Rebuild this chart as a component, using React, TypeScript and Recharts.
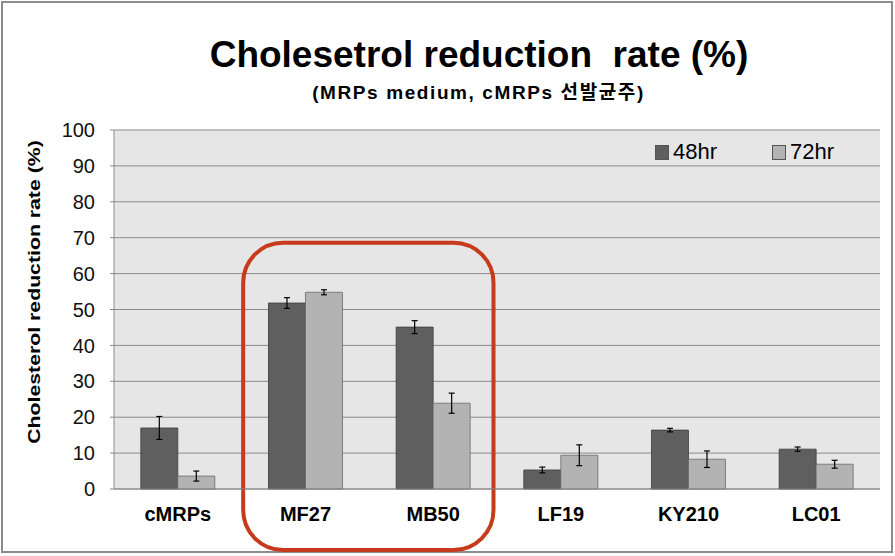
import React from "react";
import { BarChart, Bar, XAxis, YAxis, CartesianGrid, ErrorBar, Legend, ReferenceArea } from "recharts";

const strains = ["cMRPs", "MF27", "MB50", "LF19", "KY210", "LC01"];
const rate48 = [17, 51.8, 45.1, 5.3, 16.4, 11.1];
const rate72 = [3.6, 54.8, 23.9, 9.4, 8.3, 6.9];
const err48 = [3.2, 1.5, 1.8, 0.8, 0.5, 0.6];
const err72 = [1.4, 0.7, 2.8, 2.9, 2.3, 1.1];
const yTicks = [0, 10, 20, 30, 40, 50, 60, 70, 80, 90, 100];

const data = strains.map((s, i) => ({
  strain: s,
  h48: rate48[i],
  h72: rate72[i],
  e48: err48[i],
  e72: err72[i],
}));

const FONT = '"Liberation Sans", Arial, "Noto Sans CJK KR", sans-serif';

const RoundedBox = (props: any) => {
  const { x, y, width, height } = props;
  return (
    <rect
      x={x + 1.5}
      y={y}
      width={width - 5}
      height={height}
      rx={40}
      ry={40}
      fill="none"
      stroke="#c53b1b"
      strokeWidth={4}
    />
  );
};

const LegendBox = (props: any) => {
  const items = props.payload || [];
  return (
    <div style={{ display: "flex", fontFamily: FONT, fontSize: 22, color: "#000" }}>
      {items.map((it: any) => (
        <div key={it.value} style={{ display: "flex", alignItems: "center", width: 117 }}>
          <span
            style={{
              display: "inline-block",
              width: 12,
              height: 13,
              background: it.color,
              border: "1px solid #555",
              marginRight: 4,
            }}
          />
          <span>{it.value}</span>
        </div>
      ))}
    </div>
  );
};

export default function App() {
  return (
    <div style={{ position: "absolute", left: 0, top: 0, width: 895, height: 556, background: "#fff", fontFamily: FONT }}>
      <div style={{ position: "absolute", left: 1, top: 1, width: 888, height: 548, border: "2px solid #8c8c8c" }} />
      <div style={{ position: "absolute", left: 0, top: 34, width: 958, textAlign: "center", fontSize: 37, fontWeight: "bold", whiteSpace: "pre" }}>
        {"Cholesetrol reduction  rate (%)"}
      </div>
      <div style={{ position: "absolute", left: 0, top: 77, width: 957, textAlign: "center", fontSize: 19, fontWeight: "bold", letterSpacing: 1.6, whiteSpace: "nowrap" }}>
        (MRPs medium, cMRPs 선발균주)
      </div>
      <div
        style={{
          position: "absolute",
          left: 35,
          top: 292,
          transform: "translate(-50%, -50%) rotate(-90deg) scaleX(1.25)",
          fontSize: 17,
          fontWeight: "bold",
          whiteSpace: "nowrap",
        }}
      >
        Cholesterol reduction rate (%)
      </div>
      <BarChart
        width={895}
        height={556}
        data={data}
        margin={{ top: 130, right: 15, bottom: 0, left: 0 }}
        barCategoryGap="21%"
        barGap={0}
        style={{ position: "absolute", left: 0, top: 0 }}
      >
        <CartesianGrid vertical={false} stroke="#8a8a8a" fill="#e6e6e6" fillOpacity={1} />
        <XAxis
          dataKey="strain"
          height={67}
          axisLine={{ stroke: "#8a8a8a" }}
          tickLine={false}
          tickMargin={12}
          tick={{ fontSize: 20, fontWeight: "bold", fill: "#000", fontFamily: FONT }}
        />
        <YAxis
          width={114}
          domain={[0, 100]}
          ticks={yTicks}
          interval={0}
          axisLine={{ stroke: "#8a8a8a" }}
          tickLine={{ stroke: "#8a8a8a" }}
          tickSize={4}
          tickMargin={15}
          tick={{ fontSize: 20, fill: "#111", fontFamily: FONT }}
        />
        <Legend
          layout="vertical"
          verticalAlign="middle"
          align="center"
          wrapperStyle={{ top: 139, left: 655, width: 240 }}
          content={LegendBox}
        />
        <ReferenceArea x1="MF27" x2="MB50" y1={-17} y2={68.6} ifOverflow="visible" shape={RoundedBox} />
        <Bar dataKey="h48" name="48hr" fill="#5f5f5f" stroke="#3c3c3c" strokeWidth={0.8} isAnimationActive={false}>
          <ErrorBar dataKey="e48" width={3} stroke="#000" strokeWidth={1.2} direction="y" />
        </Bar>
        <Bar dataKey="h72" name="72hr" fill="#b3b3b3" stroke="#6a6a6a" strokeWidth={0.8} isAnimationActive={false}>
          <ErrorBar dataKey="e72" width={3} stroke="#000" strokeWidth={1.2} direction="y" />
        </Bar>
      </BarChart>
    </div>
  );
}
